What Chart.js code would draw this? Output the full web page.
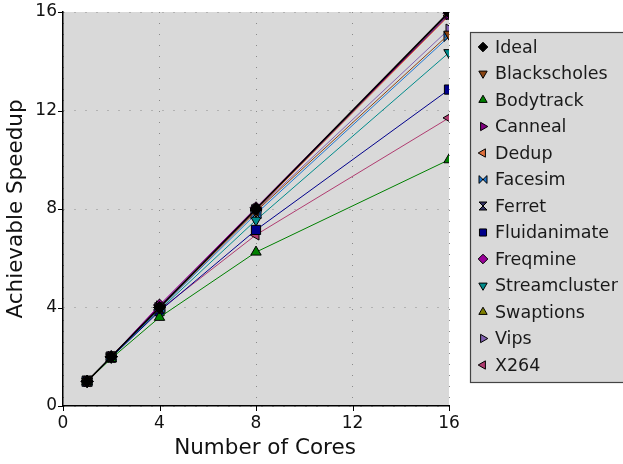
<!DOCTYPE html>
<html>
<head>
<meta charset="utf-8">
<script src="https://cdn.jsdelivr.net/npm/chart.js@4/dist/chart.umd.min.js"></script>
<style>
  html, body { margin: 0; padding: 0; background: #fff; }
  #wrap { width: 623px; height: 464px; }
</style>
</head>
<body>
<div id="wrap"><canvas id="speedup" width="623" height="464"></canvas></div>
<script>
// core counts on the x axis
const cores = [1, 2, 4, 8, 16];
const seriesNames = ['Ideal', 'Blackscholes', 'Bodytrack', 'Canneal', 'Dedup', 'Facesim', 'Ferret',
  'Fluidanimate', 'Freqmine', 'Streamcluster', 'Swaptions', 'Vips', 'X264'];

// speedup per benchmark, one value per core count
const ideal = [1, 2, 4, 8, 16];
const blackscholes = [1, 2, 3.98, 7.9, 15.1];
const bodytrack = [1, 1.93, 3.6, 6.25, 10.0];
const canneal = [1, 2, 4.05, 8.0, 15.9];
const dedup = [1, 2, 4.0, 7.95, 15.85];
const facesim = [1, 1.98, 3.95, 7.8, 15.0];
const ferret = [1, 2, 4.0, 7.95, 15.9];
const fluidanimate = [1, 1.97, 3.85, 7.15, 12.85];
const freqmine = [1, 2, 4.1, 8.05, 15.95];
const streamcluster = [1, 1.97, 3.9, 7.55, 14.35];
const swaptions = [1, 2, 4.0, 8.0, 15.95];
const vips = [1, 2, 4.05, 7.95, 15.3];
const x264 = [1, 1.98, 3.9, 6.95, 11.7];

const axisTicks = [0, 4, 8, 12, 16];
const xTitle = 'Number of Cores';
const yTitle = 'Achievable Speedup';

const seriesValues = [ideal, blackscholes, bodytrack, canneal, dedup, facesim, ferret,
  fluidanimate, freqmine, streamcluster, swaptions, vips, x264];

// colour, marker shape and rotation for each series
const seriesStyle = [
  {color: '#000000', shape: 'rectRot', rot: 0},
  {color: '#8b4513', shape: 'triangle', rot: 180},
  {color: '#008000', shape: 'triangle', rot: 0},
  {color: '#800080', shape: 'triangle', rot: 90},
  {color: '#e0703c', shape: 'triangle', rot: 270},
  {color: '#1e78d2', shape: 'bowtie', rot: 0},
  {color: '#333366', shape: 'hourglass', rot: 0},
  {color: '#00008b', shape: 'rect', rot: 0},
  {color: '#990099', shape: 'rectRot', rot: 0},
  {color: '#008b8b', shape: 'triangle', rot: 180},
  {color: '#808000', shape: 'triangle', rot: 0},
  {color: '#8060b0', shape: 'triangle', rot: 90},
  {color: '#b03c70', shape: 'triangle', rot: 270}
];

const plotBackground = '#d9d9d9';
const fontFamily = '"DejaVu Sans", sans-serif';

// bowtie / hourglass markers are not built into Chart.js, so paint them on a small canvas
function makeBowtie(color, size, vertical) {
  const c = document.createElement('canvas');
  c.width = size;
  c.height = size;
  const ctx = c.getContext('2d');
  const m = 1, s = size - 1, h = size / 2;
  ctx.beginPath();
  if (vertical) {
    ctx.moveTo(m, m); ctx.lineTo(s, m); ctx.lineTo(h, h);
    ctx.lineTo(s, s); ctx.lineTo(m, s); ctx.lineTo(h, h);
  } else {
    ctx.moveTo(m, m); ctx.lineTo(h, h); ctx.lineTo(s, m);
    ctx.lineTo(s, s); ctx.lineTo(h, h); ctx.lineTo(m, s);
  }
  ctx.closePath();
  ctx.fillStyle = color;
  ctx.fill();
  ctx.lineWidth = 1;
  ctx.strokeStyle = '#000';
  ctx.stroke();
  return c;
}

function markerFor(style, size) {
  if (style.shape === 'bowtie') return makeBowtie(style.color, size, false);
  if (style.shape === 'hourglass') return makeBowtie(style.color, size, true);
  return style.shape;
}

const datasets = seriesNames.map((name, i) => ({
  label: name,
  data: cores.map((c, j) => ({x: c, y: seriesValues[i][j]})),
  borderColor: seriesStyle[i].color,
  backgroundColor: seriesStyle[i].color,
  borderWidth: i === 0 ? 1.6 : 1,
  pointStyle: markerFor(seriesStyle[i], 12),
  pointRotation: seriesStyle[i].rot,
  pointRadius: seriesStyle[i].shape === 'rect' ? 6.5 : 6,
  pointBorderColor: '#000',
  pointBorderWidth: 1,
  pointBackgroundColor: seriesStyle[i].color,
  fill: false,
  tension: 0
}));

// keep the plot box where the reference has it: drop the label overhang padding
function fixScale(scale, size) {
  if (scale.isHorizontal()) {
    scale.height = size;
    scale.paddingLeft = 0;
    scale.paddingRight = 0;
  } else {
    scale.width = size;
    scale.paddingTop = 0;
    scale.paddingBottom = 0;
  }
}

// grey plot area, outward tick marks, x title and the boxed legend
const decorPlugin = {
  id: 'decor',
  beforeDraw: (chart) => {
    const {ctx, chartArea} = chart;
    ctx.save();
    ctx.fillStyle = plotBackground;
    ctx.fillRect(chartArea.left, chartArea.top, chartArea.right - chartArea.left, chartArea.bottom - chartArea.top);
    ctx.restore();
  },
  afterDraw: (chart) => {
    const {ctx, chartArea, scales} = chart;
    ctx.save();
    ctx.strokeStyle = '#000';
    ctx.lineWidth = 1;
    ctx.beginPath();
    axisTicks.forEach((t) => {
      const px = Math.round(scales.x.getPixelForValue(t)) + 0.5;
      ctx.moveTo(px, chartArea.bottom);
      ctx.lineTo(px, chartArea.bottom + 5);
      const py = Math.round(scales.y.getPixelForValue(t)) + 0.5;
      ctx.moveTo(chartArea.left, py);
      ctx.lineTo(chartArea.left - 5, py);
    });
    ctx.stroke();

    // x axis title sits a little right of the plot centre in the reference
    ctx.font = '21.5px ' + fontFamily;
    ctx.fillStyle = '#111';
    ctx.textAlign = 'center';
    ctx.textBaseline = 'middle';
    ctx.fillText(xTitle, 265, 448);

    // legend box
    const boxX = 470.5, boxY = 32.5, boxW = 160, boxH = 350;
    ctx.fillStyle = plotBackground;
    ctx.fillRect(boxX, boxY, boxW, boxH);
    ctx.strokeStyle = '#444';
    ctx.lineWidth = 1.2;
    ctx.strokeRect(boxX, boxY, boxW, boxH);

    ctx.font = '17.5px ' + fontFamily;
    ctx.textBaseline = 'middle';
    ctx.textAlign = 'left';
    seriesNames.forEach((name, i) => {
      const y = 47 + i * 26.5;
      const st = seriesStyle[i];
      ctx.fillStyle = st.color;
      ctx.strokeStyle = '#000';
      ctx.lineWidth = 1;
      Chart.helpers.drawPoint(ctx, {
        pointStyle: markerFor(st, 10),
        rotation: st.rot,
        radius: st.shape === 'rect' ? 5 : 4.8,
        borderWidth: 1
      }, 483, y);
      ctx.fillStyle = '#1a1a1a';
      ctx.fillText(name, 495, y + 1);
    });
    ctx.restore();
  }
};

new Chart(document.getElementById('speedup'), {
  type: 'line',
  data: {datasets},
  options: {
    responsive: false,
    animation: false,
    devicePixelRatio: 1,
    layout: {padding: {left: 0, top: 12, right: 174, bottom: 0}},
    plugins: {
      legend: {display: false},
      tooltip: {enabled: false}
    },
    scales: {
      x: {
        type: 'linear',
        min: 0,
        max: 16,
        afterFit: (scale) => fixScale(scale, 58),
        afterBuildTicks: (scale) => { scale.ticks = axisTicks.map(v => ({value: v})); },
        ticks: {color: '#111', padding: 7, font: {family: fontFamily, size: 17}},
        grid: {color: '#8a8a8a', lineWidth: 1, drawTicks: false},
        border: {display: true, color: '#000', width: 1.5, dash: [1, 10]}
      },
      y: {
        type: 'linear',
        min: 0,
        max: 16,
        afterFit: (scale) => fixScale(scale, 63),
        afterBuildTicks: (scale) => { scale.ticks = axisTicks.map(v => ({value: v})); },
        ticks: {color: '#111', padding: 6, font: {family: fontFamily, size: 17}},
        grid: {color: '#8a8a8a', lineWidth: 1, drawTicks: false},
        border: {display: true, color: '#000', width: 1.5, dash: [1, 10]},
        title: {display: true, text: yTitle, color: '#111', padding: {bottom: 2},
          font: {family: fontFamily, size: 21.5}}
      }
    }
  },
  plugins: [decorPlugin]
});
</script>
</body>
</html>
